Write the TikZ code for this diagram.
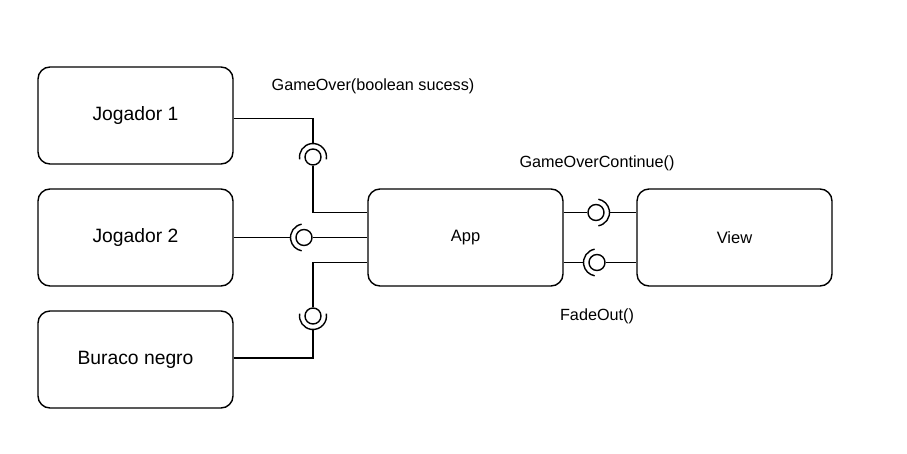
\documentclass[tikz,border=0pt]{standalone}
\usepackage{fontspec}
\setmainfont{Liberation Sans}
\begin{document}
\begin{tikzpicture}[x=1pt,y=1pt,
  comp/.style={draw=black,line width=1.4pt,rounded corners=12pt,minimum width=195pt,minimum height=97pt,inner sep=0pt,font=\fontsize{19.3}{22}\selectfont},
  compsmall/.style={comp,font=\fontsize{16.5}{19}\selectfont},
  ball/.style={draw=black,line width=1.4pt,circle,minimum size=16pt,inner sep=0pt},
  wire/.style={draw=black,line width=1.4pt},
  lbl/.style={font=\fontsize{16.2}{18}\selectfont,inner sep=0pt}]
\useasboundingbox (0,0) rectangle (907,-453);
\fill[white] (0,0) rectangle (907,-453);
% components
\node[comp] (j1) at (135.5,-115.5) {Jogador 1};
\node[comp] (j2) at (135.5,-237.5) {Jogador 2};
\node[comp] (bn) at (135.5,-359.5) {Buraco negro};
\node[compsmall] (app) at (465.5,-237.5) {App};
\node[compsmall] (view) at (734.5,-237.5) {View};
% balls
\node[ball] (l1) at (313,-157) {};
\node[ball] (l2) at (304,-237.5) {};
\node[ball] (l3) at (313,-316) {};
\node[ball] (l4) at (596,-212.5) {};
\node[ball] (l5) at (597,-262.5) {};
% sockets
\coordinate (s1) at (313,-143.5);
\coordinate (s2) at (290.5,-237.5);
\coordinate (s3) at (313,-329.5);
\coordinate (s4) at (609.5,-212.5);
\coordinate (s5) at (583.5,-262.5);
\draw[wire] ([shift={(190:13.5)}]l1.center) arc[start angle=190,end angle=-10,radius=13.5];
\draw[wire] ([shift={(100:13.5)}]l2.center) arc[start angle=100,end angle=260,radius=13.5];
\draw[wire] ([shift={(170:13.5)}]l3.center) arc[start angle=170,end angle=370,radius=13.5];
\draw[wire] ([shift={(-80:13.5)}]l4.center) arc[start angle=-80,end angle=80,radius=13.5];
\draw[wire] ([shift={(100:13.5)}]l5.center) arc[start angle=100,end angle=260,radius=13.5];
% wires
\draw[wire] ([yshift=-3pt]j1.east) -| (s1);
\draw[wire] (l1.south) |- ([yshift=25pt]app.west);
\draw[wire] (j2.east) -- (s2);
\draw[wire] (l2.east) -- (app.west);
\draw[wire] ([yshift=1.5pt]bn.east) -| (s3);
\draw[wire] (l3.north) |- ([yshift=-25pt]app.west);
\draw[wire] ([yshift=25pt]app.east) -- (l4.west);
\draw[wire] (s4) -- ([yshift=25pt]view.west);
\draw[wire] ([yshift=-25pt]app.east) -- (s5);
\draw[wire] (l5.east) -- ([yshift=-25pt]view.west);
% labels
\node[lbl] (t1) at (373,-86) {GameOver(boolean sucess)};
\node[lbl] (t2) at (597,-163) {GameOverContinue()};
\node[lbl] (t3) at (597,-316) {FadeOut()};
\end{tikzpicture}
\end{document}
